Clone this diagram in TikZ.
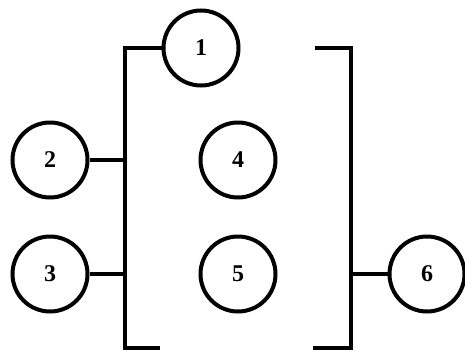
\documentclass[tikz,border=0pt]{standalone}
\usepackage{fontspec}
\setmainfont{Liberation Serif}
\begin{document}
\begin{tikzpicture}[x=1pt,y=-1pt,
  unit/.style={circle,draw,line width=4pt,minimum size=75pt,inner sep=0pt,font=\fontsize{24}{24}\selectfont\bfseries},
  wire/.style={line width=4pt}]
\useasboundingbox (0,0) rectangle (465,351);
\node[unit] (c1) at (201,48) {1};
\node[unit] (c2) at (50,160) {2};
\node[unit] (c3) at (50,274) {3};
\node[unit] (c4) at (238,160) {4};
\node[unit] (c5) at (238,274) {5};
\node[unit] (c6) at (427,274) {6};
\coordinate (lt) at (125,48);
\coordinate (lb) at (125,348);
\coordinate (lbe) at (160,348);
\coordinate (l2) at (125,160);
\coordinate (l3) at (125,274);
\coordinate (rts) at (315,48);
\coordinate (rt) at (351,48);
\coordinate (rb) at (351,348);
\coordinate (rbe) at (313,348);
\coordinate (r6) at (351,274);
\draw[wire] (c1.west) -- (lt) -- (lb) -- (lbe);
\draw[wire] (c2.east) -- (l2);
\draw[wire] (c3.east) -- (l3);
\draw[wire] (rts) -- (rt) -- (rb) -- (rbe);
\draw[wire] (r6) -- (c6.west);
\end{tikzpicture}
\end{document}
